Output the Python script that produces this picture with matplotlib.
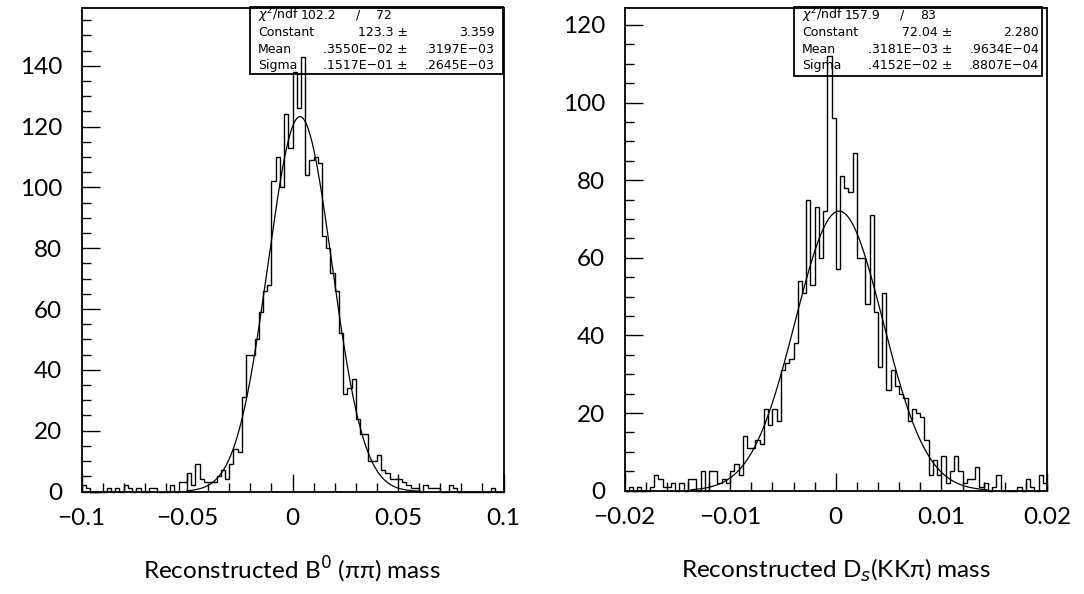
import numpy as np
import matplotlib
matplotlib.use("Agg")
import matplotlib.pyplot as plt
from matplotlib.ticker import MultipleLocator, FixedLocator, FixedFormatter
from matplotlib.patches import Rectangle

# ---------------- data ----------------
b0_range = (-0.1, 0.1)
b0_counts = [2, 1, 0, 0, 0, 0, 1, 0, 1, 0,
             2, 1, 0, 1, 0, 0, 1, 1, 0, 0,
             0, 2, 0, 3, 3, 6, 2, 9, 4, 3,
             3, 3, 5, 7, 4, 9, 14, 13, 31, 45,
             45, 50, 59, 66, 68, 102, 110, 100, 124, 113,
             138, 126, 143, 104, 109, 110, 108, 84, 80, 72,
             66, 52, 32, 34, 37, 24, 19, 19, 10, 10,
             12, 7, 6, 4, 4, 4, 3, 2, 1, 1,
             0, 2, 1, 1, 1, 0, 0, 2, 1, 0,
             0, 0, 0, 0, 0, 0, 0, 1, 0, 0]
b0_fit = dict(const=123.3, mean=0.3550e-02, sigma=0.1517e-01, lo=-0.05, hi=0.0605)
b0_stats = [("$\\chi^2$/ndf", "102.2", "72"),
            ("Constant", "123.3 \u00b1", "3.359"),
            ("Mean", ".3550E\u221202 \u00b1", ".3197E\u221203"),
            ("Sigma", ".1517E\u221201 \u00b1", ".2645E\u221203")]
b0_xticks = [-0.1, -0.05, 0, 0.05, 0.1]
b0_xticklabels = ["\u22120.1", "\u22120.05", "0", "0.05", "0.1"]
b0_yticks = [0, 20, 40, 60, 80, 100, 120, 140]
b0_ymax = 158.9
b0_label = "Reconstructed B$^{0}$ (\u03c0\u03c0) mass"

ds_range = (-0.02, 0.02)
ds_counts = [0, 1, 0, 1, 0, 0, 1, 4, 3, 1,
             1, 2, 0, 2, 0, 3, 3, 0, 5, 0,
             5, 5, 2, 3, 2, 5, 7, 4, 14, 11,
             11, 13, 12, 21, 17, 21, 18, 31, 33, 34,
             38, 54, 51, 75, 53, 73, 60, 72, 112, 96,
             57, 81, 78, 77, 87, 60, 60, 48, 71, 46,
             32, 51, 26, 31, 27, 25, 24, 18, 21, 20,
             19, 13, 4, 8, 4, 9, 2, 5, 9, 5,
             2, 3, 3, 6, 1, 2, 0, 1, 4, 0,
             0, 0, 0, 1, 0, 3, 1, 0, 4, 2]
ds_fit = dict(const=72.04, mean=0.3181e-03, sigma=0.4152e-02, lo=-0.0137, hi=0.0143)
ds_stats = [("$\\chi^2$/ndf", "157.9", "83"),
            ("Constant", "72.04 \u00b1", "2.280"),
            ("Mean", ".3181E\u221203 \u00b1", ".9634E\u221204"),
            ("Sigma", ".4152E\u221202 \u00b1", ".8807E\u221204")]
ds_xticks = [-0.02, -0.01, 0, 0.01, 0.02]
ds_xticklabels = ["\u22120.02", "\u22120.01", "0", "0.01", "0.02"]
ds_yticks = [0, 20, 40, 60, 80, 100, 120]
ds_ymax = 124.3
ds_label = "Reconstructed D$_{s}$(KK\u03c0) mass"

# ---------------- style ----------------
W, H = 1084, 594
MAIN_FONT = ["Lato", "DejaVu Sans"]
plt.rcParams["font.family"] = MAIN_FONT
plt.rcParams["mathtext.fontset"] = "dejavusans"

fig = plt.figure(figsize=(W / 100, H / 100), dpi=100)


def fx(px):
    return px / W


def fy(py):
    return 1 - py / H


def panel(rect_px, counts, xr, fit, stats, xticks, xlabels, yticks, ymax,
          minor_x, label, label_x, box_px):
    l, t, r, b = rect_px
    ax = fig.add_axes([fx(l), fy(b), (r - l) / W, (b - t) / H])
    edges = np.linspace(xr[0], xr[1], len(counts) + 1)
    ax.stairs(counts, edges, baseline=0, color="black", linewidth=1.0,
              clip_on=False)
    xs = np.linspace(fit["lo"], fit["hi"], 400)
    ax.plot(xs, fit["const"] * np.exp(-0.5 * ((xs - fit["mean"]) / fit["sigma"]) ** 2),
            color="black", linewidth=0.9)
    ax.set_xlim(*xr)
    ax.set_ylim(0, ymax)
    ax.xaxis.set_major_locator(FixedLocator(xticks))
    ax.xaxis.set_major_formatter(FixedFormatter(xlabels))
    ax.xaxis.set_minor_locator(MultipleLocator(minor_x))
    ax.yaxis.set_major_locator(FixedLocator(yticks))
    ax.yaxis.set_minor_locator(MultipleLocator(5))
    ax.tick_params(which="both", direction="in", top=False, right=False,
                   colors="black", labelsize=17.5)
    ax.tick_params(which="major", length=13, width=1.0)
    ax.tick_params(which="minor", length=6.5, width=1.0)
    ax.tick_params(axis="y", which="major", pad=14)
    ax.tick_params(axis="x", which="major", pad=12)
    for s in ax.spines.values():
        s.set_linewidth(1.3)
    fig.text(fx(label_x), fy(570), label, ha="center", va="center",
             fontsize=17.5)

    # statistics box (histogram lines remain visible through it)
    bl, bt, br, bb = box_px
    fig.patches.append(Rectangle((fx(bl), fy(bb)), (br - bl) / W, (bb - bt) / H,
                                 transform=fig.transFigure, facecolor="none",
                                 edgecolor="black", linewidth=1.3, zorder=5))
    rows = [15.5, 32.3, 49.3, 65.7]
    for (name, val, err), y in zip(stats, rows):
        kw = dict(fontsize=9, va="center", family="DejaVu Sans", zorder=6)
        fig.text(fx(bl + 8), fy(y), name, ha="left", **kw)
        if name.startswith("$"):
            fig.text(fx(bl + 51), fy(y), val, ha="left", **kw)
            fig.text(fx(bl + 108), fy(y), "/", ha="center", **kw)
            fig.text(fx(bl + 142), fy(y), err, ha="right", **kw)
        else:
            fig.text(fx(bl + 158), fy(y), val, ha="right", **kw)
            fig.text(fx(bl + 245), fy(y), err, ha="right", **kw)
    return ax


panel((81.5, 8.3, 503.5, 491.5), b0_counts, b0_range, b0_fit, b0_stats,
      b0_xticks, b0_xticklabels, b0_yticks, b0_ymax, 0.01, b0_label, 292,
      (250, 7.3, 503, 74))
panel((624.5, 8.3, 1047, 490.7), ds_counts, ds_range, ds_fit, ds_stats,
      ds_xticks, ds_xticklabels, ds_yticks, ds_ymax, 0.002, ds_label, 836,
      (794, 7.3, 1042, 76))

fig.savefig("out.png", dpi=100)
